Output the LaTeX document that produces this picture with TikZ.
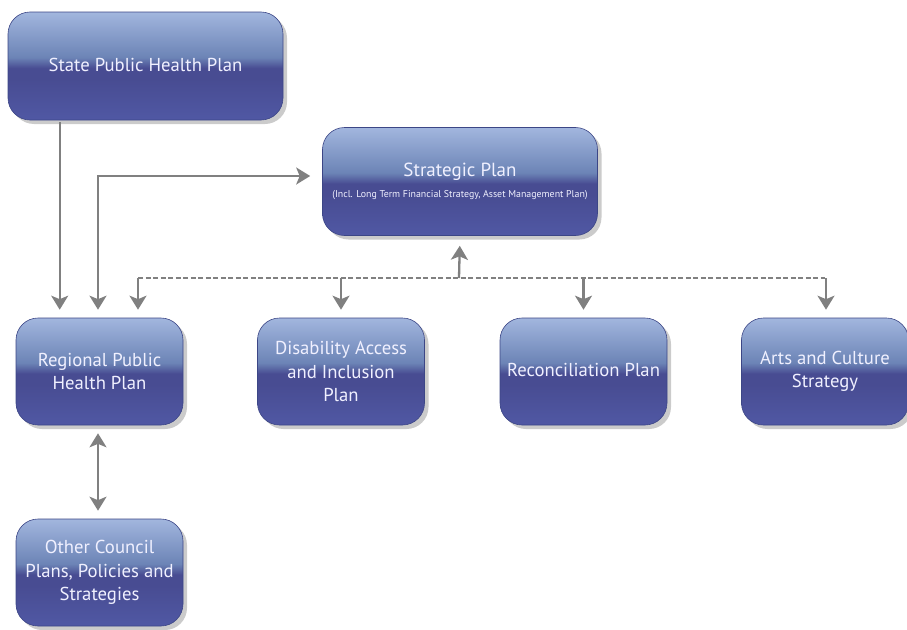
\documentclass[tikz,border=0pt]{standalone}
\usepackage{fontspec}
\setmainfont{PT Sans}
\usetikzlibrary{arrows.meta,shadows,calc}
\definecolor{btop}{HTML}{A2B6DE}
\definecolor{bmid}{HTML}{6C84B6}
\definecolor{bdark}{HTML}{484C92}
\definecolor{bbot}{HTML}{5058A4}
\definecolor{bedge}{HTML}{3C4686}
\definecolor{arrgray}{HTML}{808080}
\pgfdeclareverticalshading{boxshade}{100bp}{color(0bp)=(bbot); color(25bp)=(bbot); color(44bp)=(bdark); color(49bp)=(bdark); color(54bp)=(bmid); color(75bp)=(btop); color(100bp)=(btop)}
\tikzset{
  planbox/.style={rectangle, rounded corners=22pt, shading=boxshade, draw=bedge, line width=0.6pt,
    text=white!94!blue, align=center, inner sep=0pt, font=\fontsize{18.7}{23.5}\selectfont,
    drop shadow={shadow xshift=4pt, shadow yshift=-4pt, fill=black!45, opacity=0.45}},
  bigbox/.style={planbox, minimum width=275pt, minimum height=108pt},
  smallbox/.style={planbox, minimum width=167pt, minimum height=107pt},
  arr/.style={draw=arrgray, line width=2.3pt, -{Stealth[length=14pt,width=17pt,inset=3.5pt]}},
  arrboth/.style={draw=arrgray, line width=2.3pt, {Stealth[length=14pt,width=17pt,inset=3.5pt]}-{Stealth[length=14pt,width=17pt,inset=3.5pt]}},
  busline/.style={draw=arrgray, line width=1.8pt, dash pattern=on 5pt off 2.5pt},
}
\begin{document}
\begin{tikzpicture}[x=1pt,y=-1pt]
\useasboundingbox (0,0) rectangle (907,629);
\node[bigbox] (state) at (145.5,66) {\raisebox{3pt}{State Public Health Plan}};
\node[bigbox] (strategic) at (460,181.5) {\raisebox{-1pt}{\fontsize{19}{22}\selectfont Strategic Plan}\\[-1pt]{\fontsize{9.9}{11}\selectfont (Incl. Long Term Financial Strategy, Asset Management Plan)}};
\node[smallbox] (regional) at (99.5,371.5) {Regional Public\\Health Plan};
\node[smallbox] (disab) at (341,371.5) {Disability Access\\and Inclusion\\Plan};
\node[smallbox] (recon) at (583.5,371.5) {\raisebox{3pt}{Reconciliation Plan}};
\node[smallbox] (arts) at (825,371.5) {\raisebox{-3pt}{Arts and Culture}\\\raisebox{-3pt}{Strategy}};
\node[smallbox] (other) at (99.5,572.5) {Other Council\\Plans, Policies and\\Strategies};
% connectors
\coordinate (bus) at (459,278);
\coordinate (sL) at ([xshift=52pt]state.south west);
\coordinate (rL) at ([xshift=44pt]regional.north west);
\coordinate (rM) at ([xshift=-1.5pt]regional.north);
\coordinate (rR) at ([xshift=38.5pt]regional.north);
\coordinate (sW) at ([yshift=5.5pt]strategic.west);
\draw[arr, shorten <=2pt, shorten >=8pt] (sL) -- (rL);
\draw[arrboth, shorten <=12pt, shorten >=8pt] (sW) -| (rM);
\draw[busline] (rR |- bus) -- (arts.north |- bus);
\draw[arr, shorten >=10pt] (bus) -- (strategic.south);
\draw[arr, shorten >=8pt] (rR |- bus) -- (rR);
\draw[arr, shorten >=8pt] (disab.north |- bus) -- (disab.north);
\draw[arr, shorten >=8pt] (recon.north |- bus) -- (recon.north);
\draw[arr, shorten >=8pt] ([xshift=1pt]arts.north |- bus) -- ([xshift=1pt]arts.north);
\draw[arrboth, shorten <=8pt, shorten >=8pt] ([xshift=-1.5pt]regional.south) -- ([xshift=-1.5pt]other.north);
\end{tikzpicture}
\end{document}
